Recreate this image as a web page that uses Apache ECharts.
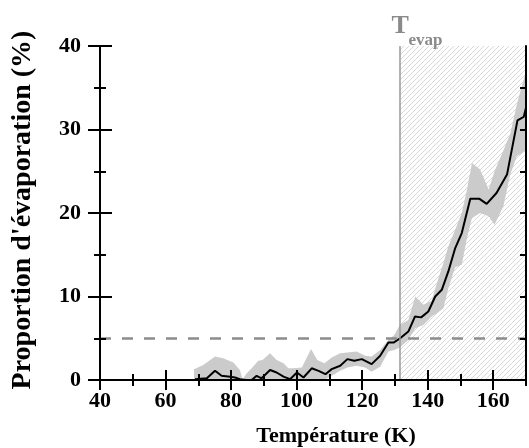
<!DOCTYPE html>
<html><head><meta charset="utf-8">
<script src="https://cdn.jsdelivr.net/npm/echarts@6/dist/echarts.min.js"></script>
<style>html,body{margin:0;padding:0;background:#fff}#c{width:529px;height:448px}</style>
</head><body><div id="c"></div>
<script>
// ---- data ----
const lineT = [69.0,72.6,75.1,77.1,79.7,81.2,82.7,84.5,86.3,87.8,89.3,91.9,93.9,96.0,98.0,100.1,102.1,104.6,106.7,108.8,110.7,113.3,115.5,117.6,119.9,122.9,125.5,128.0,129.7,131.6,134.1,136.1,138.0,140.2,142.3,144.3,146.3,148.4,150.4,153.0,155.8,158.0,161.0,164.2,167.4,169.3,170.0];
const lineV = [0.1,0.2,1.1,0.5,0.4,0.3,0.1,0.0,0.0,0.5,0.2,1.2,0.9,0.4,0.1,0.9,0.3,1.4,1.1,0.7,1.3,1.7,2.5,2.3,2.5,1.9,2.9,4.5,4.5,5.0,5.8,7.6,7.5,8.2,10.0,10.8,13.0,15.8,17.6,21.7,21.7,21.1,22.4,24.6,31.1,31.5,32.6];
const bandT = [68.7,71.5,75.1,77.6,80.7,82.7,83.5,84.8,86.3,88.3,89.6,91.9,93.9,96.0,97.5,99.0,101.6,104.4,106.3,108.5,110.7,113.3,115.5,118.3,120.9,122.9,125.5,128.0,129.8,131.5,134.1,136.2,138.7,141.2,142.8,144.8,146.3,148.4,150.4,152.0,153.5,156.0,158.6,160.4,163.1,165.2,167.2,170.0];
const bandHi = [1.3,1.8,2.8,2.6,2.1,1.2,0.1,0.8,1.4,2.3,2.4,3.2,2.4,2.0,1.4,1.4,1.5,3.7,2.4,2.0,2.7,3.2,3.3,3.4,2.9,2.8,3.6,4.8,5.4,6.6,7.2,10.0,9.0,9.5,11.6,14.0,16.0,18.0,20.0,22.8,26.0,25.2,22.8,25.0,27.5,29.5,33.0,37.0];
const bandLo = [0,0,0,0,0,0,0,0,0,0,0,0,0,0,0,0,0,0,0,0,0.5,1.1,1.5,1.7,1.5,1.0,1.6,3.4,3.6,3.9,4.8,6.2,6.6,7.6,8.0,8.6,11.0,13.5,13.8,17.0,19.4,20.0,19.6,18.6,20.8,24.6,26.8,27.5];
const xMajorTicks = [40,60,80,100,120,140,160];
const xMinorTicks = [50,70,90,110,130,150,170];
const yMajorTicks = [0,10,20,30,40];
const yMinorTicks = [5,15,25,35];
const yRightTicks = [5,10,15,20,25,30,35];
const xRange = [40,170];
const yRange = [0,40];
const tEvap = 131.4;
const threshold = 5;
const xTitle = 'Température (K)';
const yTitle = "Proportion d'évaporation (%)";

const FONT = 'Liberation Serif';
const chart = echarts.init(document.getElementById('c'), null, {renderer:'canvas'});

// hatch pattern
const pat = document.createElement('canvas');
pat.width = 5; pat.height = 5;
const g = pat.getContext('2d');
g.strokeStyle = '#c6c6c6'; g.lineWidth = 0.7;
g.beginPath();
g.moveTo(-1,6); g.lineTo(6,-1);
g.moveTo(-1,1); g.lineTo(1,-1);
g.moveTo(4,6); g.lineTo(6,4);
g.stroke();

const axLine = {show:true, lineStyle:{color:'#000', width:2}};
function xAx(ticks, len, inside, labels, pos){
  return {type:'value', min:xRange[0], max:xRange[1], position:pos||'bottom', z:10,
    axisLine: axLine,
    axisTick: ticks ? {show:true, customValues:ticks, length:len, inside:inside, lineStyle:{color:'#000', width:2}} : {show:false},
    axisLabel: labels ? {show:true, customValues:xMajorTicks, margin:10, color:'#000', fontFamily:FONT, fontWeight:'bold', fontSize:22} : {show:false},
    splitLine:{show:false}};
}
function yAx(ticks, len, inside, labels, pos){
  return {type:'value', min:yRange[0], max:yRange[1], position:pos||'left', z:10,
    axisLine: axLine,
    axisTick: ticks ? {show:true, customValues:ticks, length:len, inside:inside, lineStyle:{color:'#000', width:2}} : {show:false},
    axisLabel: labels ? {show:true, customValues:yMajorTicks, margin:19, color:'#000', fontFamily:FONT, fontWeight:'bold', fontSize:22} : {show:false},
    splitLine:{show:false}};
}

const option = {
  animation:false,
  backgroundColor:'#fff',
  grid:{left:100, right:3, top:46, bottom:68, containLabel:false},
  xAxis:[
    xAx(xMajorTicks, 10, false, true),
    xAx(xMajorTicks, 10, true, false),
    xAx(xMinorTicks, 6, false, false),
    xAx(xMinorTicks, 6, true, false),
    xAx(null, 0, false, false, 'top')
  ],
  yAxis:[
    yAx(yMajorTicks, 12, false, true),
    yAx(yMajorTicks, 12, true, false),
    yAx(yMinorTicks, 6, false, false),
    yAx(yMinorTicks, 6, true, false),
    yAx(yRightTicks, 6, true, false, 'right')
  ],
  series:[
    {
      type:'custom', z:1, silent:true, clip:true,
      xAxisIndex:0, yAxisIndex:0,
      data:[[bandT[0], bandHi[0]]],
      renderItem:function(params, api){
        if (params.dataIndex !== 0) return null;
        const pts = [];
        for (let i=0;i<bandT.length;i++) pts.push(api.coord([bandT[i], bandHi[i]]));
        for (let i=bandT.length-1;i>=0;i--) pts.push(api.coord([bandT[i], bandLo[i]]));
        return {type:'polygon', shape:{points:pts}, style:{fill:'#cbcbcb', stroke:null}};
      }
    },
    {
      type:'line', z:2, silent:true, xAxisIndex:0, yAxisIndex:0, data:[],
      markArea:{silent:true, itemStyle:{color:{image:pat, repeat:'repeat'}, opacity:1, borderWidth:0},
        data:[[{xAxis:tEvap, yAxis:yRange[0]},{xAxis:xRange[1], yAxis:yRange[1]}]]},
      markLine:{silent:true, symbol:['none','none'], label:{show:false},
        data:[
          {xAxis:tEvap, lineStyle:{color:'#9a9a9a', width:1.5, type:'solid'}},
          {yAxis:threshold, lineStyle:{color:'#8c8c8c', width:2.5, type:[11,11]}}
        ]}
    },
    {
      type:'line', z:4, silent:true, xAxisIndex:0, yAxisIndex:0,
      data: lineT.map((t,i)=>[t, lineV[i]]),
      showSymbol:false, symbol:'none',
      lineStyle:{color:'#000', width:2}
    }
  ]
};
chart.setOption(option);

const topPt = chart.convertToPixel({xAxisIndex:0, yAxisIndex:0}, [tEvap, yRange[1]]);
chart.setOption({
  graphic:[
    {type:'text', x:topPt[0]-8, y:26, style:{text:'T', fill:'#8a8a8a', font:'bold 26px "'+FONT+'"', textAlign:'left', textVerticalAlign:'middle'}},
    {type:'text', x:topPt[0]+9, y:41, style:{text:'evap', fill:'#8a8a8a', font:'bold 17px "'+FONT+'"', textAlign:'left', textVerticalAlign:'middle'}},
    {type:'text', x:336, y:436, style:{text:xTitle, fill:'#000', font:'bold 22px "'+FONT+'"', textAlign:'center', textVerticalAlign:'middle'}},
    {type:'text', x:23, y:210, rotation:Math.PI/2, style:{text:yTitle, fill:'#000', font:'bold 28px "'+FONT+'"', textAlign:'center', textVerticalAlign:'middle'}}
  ]
});
</script></body></html>
